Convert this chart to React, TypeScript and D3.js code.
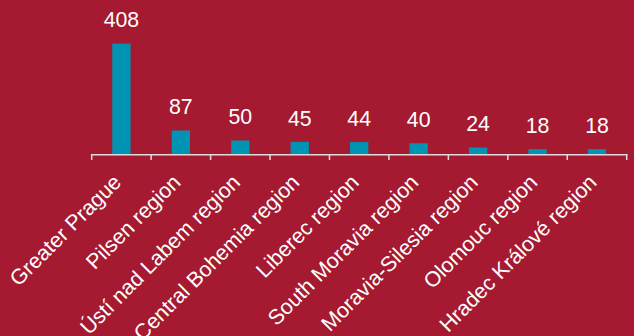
import React from "react";
import * as d3 from "d3";

const categories = [
  "Greater Prague",
  "Pilsen region",
  "Ústí nad Labem region",
  "Central Bohemia region",
  "Liberec region",
  "South Moravia region",
  "Moravia-Silesia region",
  "Olomouc region",
  "Hradec Králové region",
];
const values = [408, 87, 50, 45, 44, 40, 24, 18, 18];

const W = 634;
const H = 336;
const BG = "#A51A30";
const BAR = "#0093B3";
const TEXT = "#FFFFFF";
const AXIS = "#DCDCDC";

export default function App() {
  const x = d3
    .scaleBand<string>()
    .domain(categories)
    .range([91.7, 626.7])
    .paddingInner(0)
    .paddingOuter(0);
  const y = d3.scaleLinear().domain([0, 408]).range([154, 43.7]);
  const bw = 18.3;
  const bandW = x.bandwidth();
  const ticks = d3.range(categories.length + 1).map((i) => 91.7 + i * bandW);
  const font = "'Liberation Sans', Arial, sans-serif";

  return (
    <svg
      width={W}
      height={H}
      style={{ position: "absolute", left: 0, top: 0, display: "block" }}
    >
      <rect x={0} y={0} width={W} height={H} fill={BG} />
      {categories.map((c, i) => {
        const cx = (x(c) as number) + bandW / 2;
        return (
          <g key={c}>
            <rect
              x={cx - bw / 2}
              y={y(values[i])}
              width={bw}
              height={y(0) - y(values[i])}
              fill={BAR}
            />
            <text
              x={cx}
              y={y(values[i]) - 16.3}
              textAnchor="middle"
              fontFamily={font}
              fontSize={21.3}
              fill={TEXT}
            >
              {values[i]}
            </text>
            <text
              transform={`translate(${cx + 1},${y(0) + 29.5}) rotate(-45)`}
              textAnchor="end"
              fontFamily={font}
              fontSize={21.3}
              fill={TEXT}
            >
              {c}
            </text>
          </g>
        );
      })}
      <line
        x1={ticks[0] - 0.75}
        x2={ticks[ticks.length - 1] + 0.75}
        y1={154.7}
        y2={154.7}
        stroke={AXIS}
        strokeWidth={1.6}
      />
      {ticks.map((t, i) => (
        <line
          key={i}
          x1={t}
          x2={t}
          y1={154}
          y2={160}
          stroke={AXIS}
          strokeWidth={1.5}
        />
      ))}
    </svg>
  );
}
